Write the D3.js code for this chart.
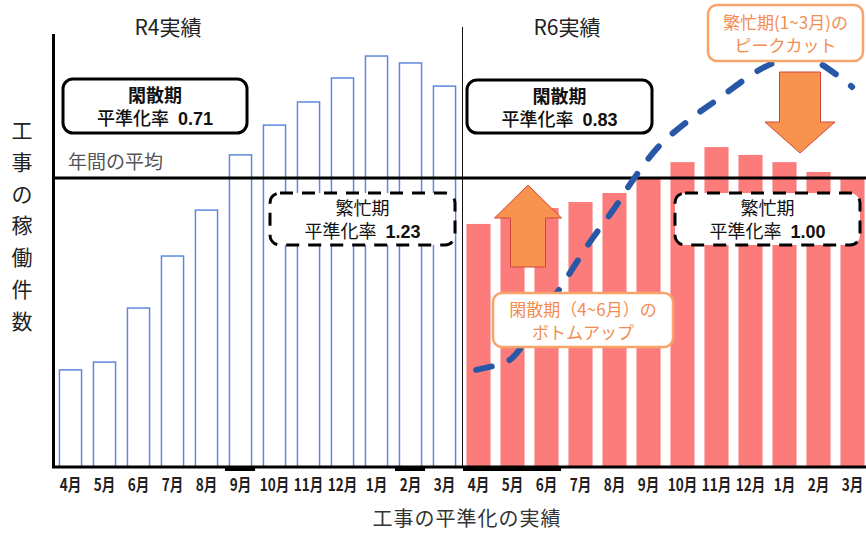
<!DOCTYPE html>
<html lang="ja">
<head>
<meta charset="utf-8">
<script src="https://cdn.jsdelivr.net/npm/d3@7"></script>
<style>
  body { margin: 0; background: #fff; }
  text { font-family: "Noto Sans CJK JP", "Noto Sans", sans-serif; }
</style>
</head>
<body>
<div id="chart"></div>
<script>
// months on the x axis (fiscal year, April to March)
var months = ["4月", "5月", "6月", "7月", "8月", "9月", "10月", "11月", "12月", "1月", "2月", "3月"];
// operating counts, indexed so that the yearly average = 100
var r4Values = [33.6, 36.3, 55.0, 73.0, 88.9, 108.0, 118.3, 126.3, 134.6, 142.2, 139.8, 131.8];
var r6Values = [84.1, 87.0, 89.6, 91.7, 94.8, 100.0, 105.5, 110.7, 108.0, 105.5, 102.1, 100.0];
var averageValue = 100;
var periodTitles = ["R4実績", "R6実績"];
var offRates = ["0.71", "0.83"];
var busyRates = ["1.23", "1.00"];
// schematic trend (dashed) : position in month slots, value
var trendSlot = [11.93, 12.63, 12.99, 13.75, 14.63, 15.28, 15.96, 16.60, 17.34, 18.31, 19.01, 20.37, 21.31, 21.96, 22.99];
var trendValue = [33.6, 35.6, 37.7, 50.2, 66.1, 77.9, 88.9, 100.3, 111.4, 121.1, 127.0, 138.1, 141.9, 140.1, 131.5];

var width = 866, height = 533;

var svg = d3.select("#chart")
    .append("svg")
    .attr("width", width)
    .attr("height", height);

var slots = d3.range(24);

var x = d3.scaleBand()
    .domain(slots)
    .range([53.5, 869.5])
    .paddingInner(0.32)
    .paddingOuter(0.16);

var y = d3.scaleLinear()
    .domain([0, 150])
    .range([467, 33.5]);

function xc(i) { return x(0) + x.bandwidth() / 2 + i * x.step(); }

// R4 bars (outlined)
svg.append("g")
    .selectAll("rect")
    .data(r4Values)
    .enter()
    .append("rect")
    .attr("x", function (d, i) { return x(i) + 0.5; })
    .attr("y", function (d) { return y(d); })
    .attr("width", x.bandwidth() - 1)
    .attr("height", function (d) { return y(0) - y(d); })
    .style("fill", "none")
    .style("stroke", "#5f87e0")
    .style("stroke-width", 1.5);

// R6 bars (filled)
svg.append("g")
    .selectAll("rect")
    .data(r6Values)
    .enter()
    .append("rect")
    .attr("x", function (d, i) { return x(i + 12) - 0.5; })
    .attr("y", function (d) { return y(d); })
    .attr("width", x.bandwidth() + 1)
    .attr("height", function (d) { return y(0) - y(d); })
    .style("fill", "#fc7c7c");

// divider between R4 and R6
var divX = (x(11) + x.bandwidth() + x(12)) / 2 + 1;
svg.append("line")
    .attr("x1", divX).attr("x2", divX)
    .attr("y1", 27).attr("y2", y(0))
    .style("stroke", "#111")
    .style("stroke-width", 1);

// period titles
svg.selectAll(".ptitle")
    .data(periodTitles)
    .enter()
    .append("text")
    .attr("class", "ptitle")
    .attr("x", function (d, i) { return i == 0 ? 168 : 567; })
    .attr("y", 35)
    .attr("text-anchor", "middle")
    .style("font-size", "21px")
    .style("fill", "#222")
    .text(function (d) { return d; });

// average line
svg.append("line")
    .attr("x1", 53).attr("x2", width)
    .attr("y1", y(averageValue)).attr("y2", y(averageValue))
    .style("stroke", "#000")
    .style("stroke-width", 3);

svg.append("text")
    .attr("x", 68)
    .attr("y", y(averageValue) - 9)
    .style("font-size", "19px")
    .style("fill", "#555")
    .text("年間の平均");

// dashed trend curve
var trendLine = d3.line()
    .x(function (d) { return xc(d[0]); })
    .y(function (d) { return y(d[1]); })
    .curve(d3.curveCatmullRom.alpha(0.5));

svg.append("path")
    .datum(d3.zip(trendSlot, trendValue))
    .attr("d", trendLine)
    .style("fill", "none")
    .style("stroke", "#2857a8")
    .style("stroke-width", 6)
    .style("stroke-linecap", "round")
    .style("stroke-dasharray", "16,19");

// arrows
function arrow(cx, tipY, baseY, tailY, shaftW, headW) {
  return "M" + cx + "," + tipY +
    "L" + (cx + headW / 2) + "," + baseY +
    "L" + (cx + shaftW / 2) + "," + baseY +
    "L" + (cx + shaftW / 2) + "," + tailY +
    "L" + (cx - shaftW / 2) + "," + tailY +
    "L" + (cx - shaftW / 2) + "," + baseY +
    "L" + (cx - headW / 2) + "," + baseY + "Z";
}

svg.append("path")
    .attr("d", arrow(528, 185, 218, 267, 35, 67))
    .style("fill", "#f8934f")
    .style("stroke", "#d2463a")
    .style("stroke-width", 1);

svg.append("path")
    .attr("d", arrow(800, 153, 122, 72, 41, 70))
    .style("fill", "#f8934f")
    .style("stroke", "#d2463a")
    .style("stroke-width", 1);

// annotation boxes
function note(bx, by, bw, bh, line1, label, rate, dashed) {
  var g = svg.append("g");
  g.append("rect")
      .attr("x", bx).attr("y", by)
      .attr("width", bw).attr("height", bh)
      .attr("rx", 10).attr("ry", 10)
      .style("fill", "#fff")
      .style("stroke", "#000")
      .style("stroke-width", 3)
      .style("stroke-dasharray", dashed ? "13,9" : null);
  g.append("text")
      .attr("x", bx + bw / 2)
      .attr("y", by + bh / 2 - 4)
      .attr("text-anchor", "middle")
      .style("font-size", "18px")
      .style("font-weight", dashed ? "normal" : "bold")
      .style("fill", "#111")
      .text(line1);
  var t = g.append("text")
      .attr("x", bx + bw / 2)
      .attr("y", by + bh / 2 + 19)
      .attr("text-anchor", "middle")
      .style("font-size", "18px")
      .style("fill", "#111");
  t.append("tspan").style("font-weight", dashed ? "normal" : "500").text(label);
  t.append("tspan")
      .attr("dx", 9)
      .style("font-family", "'Liberation Sans', Arial, sans-serif")
      .style("font-weight", "bold")
      .style("font-size", "18px")
      .text(rate);
}

note(63, 79, 184, 54, "閑散期", "平準化率", offRates[0], false);
note(467, 80, 185, 53, "閑散期", "平準化率", offRates[1], false);
note(270, 193, 185, 52, "繁忙期", "平準化率", busyRates[0], true);
note(675, 193, 185, 52, "繁忙期", "平準化率", busyRates[1], true);

function orangeNote(bx, by, bw, bh, line1, line2) {
  var g = svg.append("g");
  g.append("rect")
      .attr("x", bx).attr("y", by)
      .attr("width", bw).attr("height", bh)
      .attr("rx", 9).attr("ry", 9)
      .style("fill", "#fff")
      .style("stroke", "#f7a46a")
      .style("stroke-width", 2.5);
  g.append("text")
      .attr("x", bx + bw / 2)
      .attr("y", by + bh / 2 - 4)
      .attr("text-anchor", "middle")
      .style("font-size", "17px")
      .style("fill", "#f28d52")
      .text(line1);
  g.append("text")
      .attr("x", bx + bw / 2)
      .attr("y", by + bh / 2 + 19)
      .attr("text-anchor", "middle")
      .style("font-size", "17px")
      .style("fill", "#f28d52")
      .text(line2);
}

orangeNote(493, 293, 180, 54, "閑散期（4~6月）の", "ボトムアップ");
orangeNote(708, 5, 155, 56, "繁忙期(1~3月)の", "ピークカット");

// axes
var xAxis = d3.axisBottom(x)
    .tickSize(0)
    .tickSizeOuter(0)
    .tickFormat(function (i) { return months[i % 12]; });

var gx = svg.append("g")
    .attr("transform", "translate(0," + y(0) + ")")
    .call(xAxis);

gx.select(".domain")
    .attr("d", "M52," + 0 + "H" + width)
    .style("stroke", "#000")
    .style("stroke-width", 3);

gx.selectAll(".tick text")
    .attr("y", 12)
    .attr("dy", "0.71em")
    .attr("transform", "scale(0.8,1)")
    .style("font-family", "'Noto Sans CJK JP', sans-serif")
    .style("font-size", "17px")
    .style("font-weight", "bold")
    .style("fill", "#222");

// heavier segments under the baseline
var heavy = [[5, 5], [10, 10], [12, 14]];
svg.append("g")
    .selectAll("line")
    .data(heavy)
    .enter()
    .append("line")
    .attr("x1", function (d) { return x(d[0]) - 4; })
    .attr("x2", function (d) { return x(d[1]) + x.bandwidth() + 3; })
    .attr("y1", y(0) + 2).attr("y2", y(0) + 2)
    .style("stroke", "#000")
    .style("stroke-width", 4);

var yAxis = d3.axisLeft(y).tickValues([]).tickSizeOuter(0);
svg.append("g")
    .attr("transform", "translate(53,0)")
    .call(yAxis)
    .select(".domain")
    .style("stroke", "#000")
    .style("stroke-width", 3);

// axis titles
svg.append("g")
    .selectAll("text")
    .data("工事の稼働件数".split(""))
    .enter()
    .append("text")
    .attr("x", 22)
    .attr("y", function (d, i) { return 138 + i * 31.8; })
    .attr("text-anchor", "middle")
    .style("font-size", "21px")
    .style("fill", "#222")
    .text(function (d) { return d; });

svg.append("text")
    .attr("x", 467)
    .attr("y", 526)
    .attr("text-anchor", "middle")
    .style("font-size", "20px")
    .style("letter-spacing", "1px")
    .style("fill", "#333")
    .text("工事の平準化の実績");
</script>
</body>
</html>
